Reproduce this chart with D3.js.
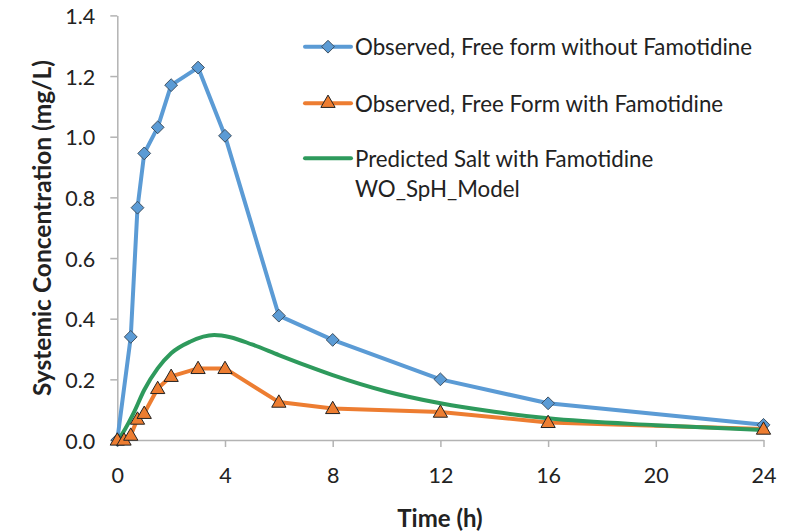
<!DOCTYPE html>
<html><head><meta charset="utf-8">
<script src="https://cdn.jsdelivr.net/npm/d3@7"></script>
<style>body{margin:0;background:#fff}svg{display:block}text{font-family:Lato,"Open Sans",sans-serif;fill:#222}</style>
</head><body><svg id="c" width="799" height="532"></svg>
<script>
const blueT = [0,0.5,0.75,1,1.5,2,3,4,6,8,12,16,24];
const blueY = [0,0.34,0.766,0.945,1.031,1.17,1.228,1.003,0.41,0.33,0.2,0.121,0.05];
const orangeT = [0,0.25,0.5,0.75,1,1.5,2,3,4,6,8,12,16,24];
const orangeY = [0,0,0.016,0.069,0.088,0.17,0.21,0.236,0.236,0.125,0.104,0.092,0.058,0.036];
const greenT = [0,0.1,0.6,1,1.5,2,2.7,3.6,4.2,5,6,7,8,10,12,14,16,20,24];
const greenY = [0,0.01,0.088,0.165,0.236,0.286,0.324,0.346,0.339,0.315,0.28,0.246,0.214,0.16,0.121,0.093,0.0715,0.049,0.033];
const xTicks = [0,4,8,12,16,20,24];
const yTicks = [0,0.2,0.4,0.6,0.8,1.0,1.2,1.4];
const legendLabels = [["Observed, Free form without Famotidine"],["Observed, Free Form with Famotidine"],["Predicted Salt with Famotidine","WO_SpH_Model"]];
const colors = ["#5B9BD5","#ED7D31","#2E9A5C"];

const svg = d3.select("#c");
const x = d3.scaleLinear().domain([0,24]).range([117.3,763.5]);
const y = d3.scaleLinear().domain([0,1.4]).range([440,15.4]);
const axisCol = "#b3b3b3";

const xa = svg.append("g").attr("transform","translate(0,440)")
  .call(d3.axisBottom(x).tickValues(xTicks).tickSize(7).tickSizeOuter(0).tickFormat(d3.format("d")));
const ya = svg.append("g").attr("transform","translate(117.3,0)")
  .call(d3.axisLeft(y).tickValues(yTicks).tickSize(7).tickSizeOuter(0).tickFormat(d3.format(".1f")));
[xa,ya].forEach(g=>{
  g.selectAll("path,line").attr("stroke",axisCol).attr("stroke-width",1.5);
  g.selectAll("text").attr("font-size",21.5).attr("font-family","Lato,'Open Sans',sans-serif").attr("fill","#222");
});
xa.selectAll("text").attr("dy",null).attr("y",35).attr("dominant-baseline","central");
ya.selectAll("text").attr("x",-22).attr("dy",null).attr("dominant-baseline","central");

svg.append("text").attr("transform","translate(41,228) rotate(-90)").attr("text-anchor","middle")
  .attr("dominant-baseline","central").attr("font-size",24.5).attr("font-weight","bold").text("Systemic Concentration (mg/L)");
svg.append("text").attr("x",440).attr("y",517).attr("text-anchor","middle")
  .attr("dominant-baseline","central").attr("font-size",24).attr("font-weight","bold").text("Time (h)");

const line = d3.line().x(d=>x(d[0])).y(d=>y(d[1]));
const smooth = d3.line().x(d=>x(d[0])).y(d=>y(d[1])).curve(d3.curveMonotoneX);
const blue = blueT.map((t,i)=>[t,blueY[i]]);
const orange = orangeT.map((t,i)=>[t,orangeY[i]]);
const green = greenT.map((t,i)=>[t,greenY[i]]);

svg.append("path").attr("d",line(blue)).attr("fill","none").attr("stroke",colors[0]).attr("stroke-width",4).attr("stroke-linejoin","round");
svg.append("path").attr("d",line(orange)).attr("fill","none").attr("stroke",colors[1]).attr("stroke-width",4).attr("stroke-linejoin","round");
svg.append("path").attr("d",smooth(green)).attr("fill","none").attr("stroke",colors[2]).attr("stroke-width",4);

const diamond = d3.symbol().type(d3.symbolSquare).size(82);
const tri = d3.symbol().type(d3.symbolTriangle).size(88);
function drawDiamond(g,cx,cy){g.append("path").attr("d",diamond()).attr("transform",`translate(${cx},${cy}) rotate(45)`).attr("fill",colors[0]).attr("stroke","#3a4a5a").attr("stroke-width",0.9);}
function drawTri(g,cx,cy){g.append("path").attr("d",tri()).attr("transform",`translate(${cx},${cy+1})`).attr("fill",colors[1]).attr("stroke","#222").attr("stroke-width",1);}
const mk = svg.append("g");
blue.forEach(d=>drawDiamond(mk,x(d[0]),y(d[1])));
orange.forEach(d=>drawTri(mk,x(d[0]),y(d[1])));

const lg = svg.append("g");
const rowsY = [46.7,103.3,158.3];
legendLabels.forEach((lab,i)=>{
  lg.append("line").attr("x1",305).attr("x2",351).attr("y1",rowsY[i]).attr("y2",rowsY[i]).attr("stroke",colors[i]).attr("stroke-width",4).attr("stroke-linecap","round");
  if(i===0) drawDiamond(lg,328,rowsY[i]);
  if(i===1) drawTri(lg,328,rowsY[i]-1);
  lab.forEach((s,j)=>{
    lg.append("text").attr("x",355).attr("y",rowsY[i]+j*30).attr("dominant-baseline","central").attr("font-size",22.3).text(s);
  });
});
</script></body></html>
